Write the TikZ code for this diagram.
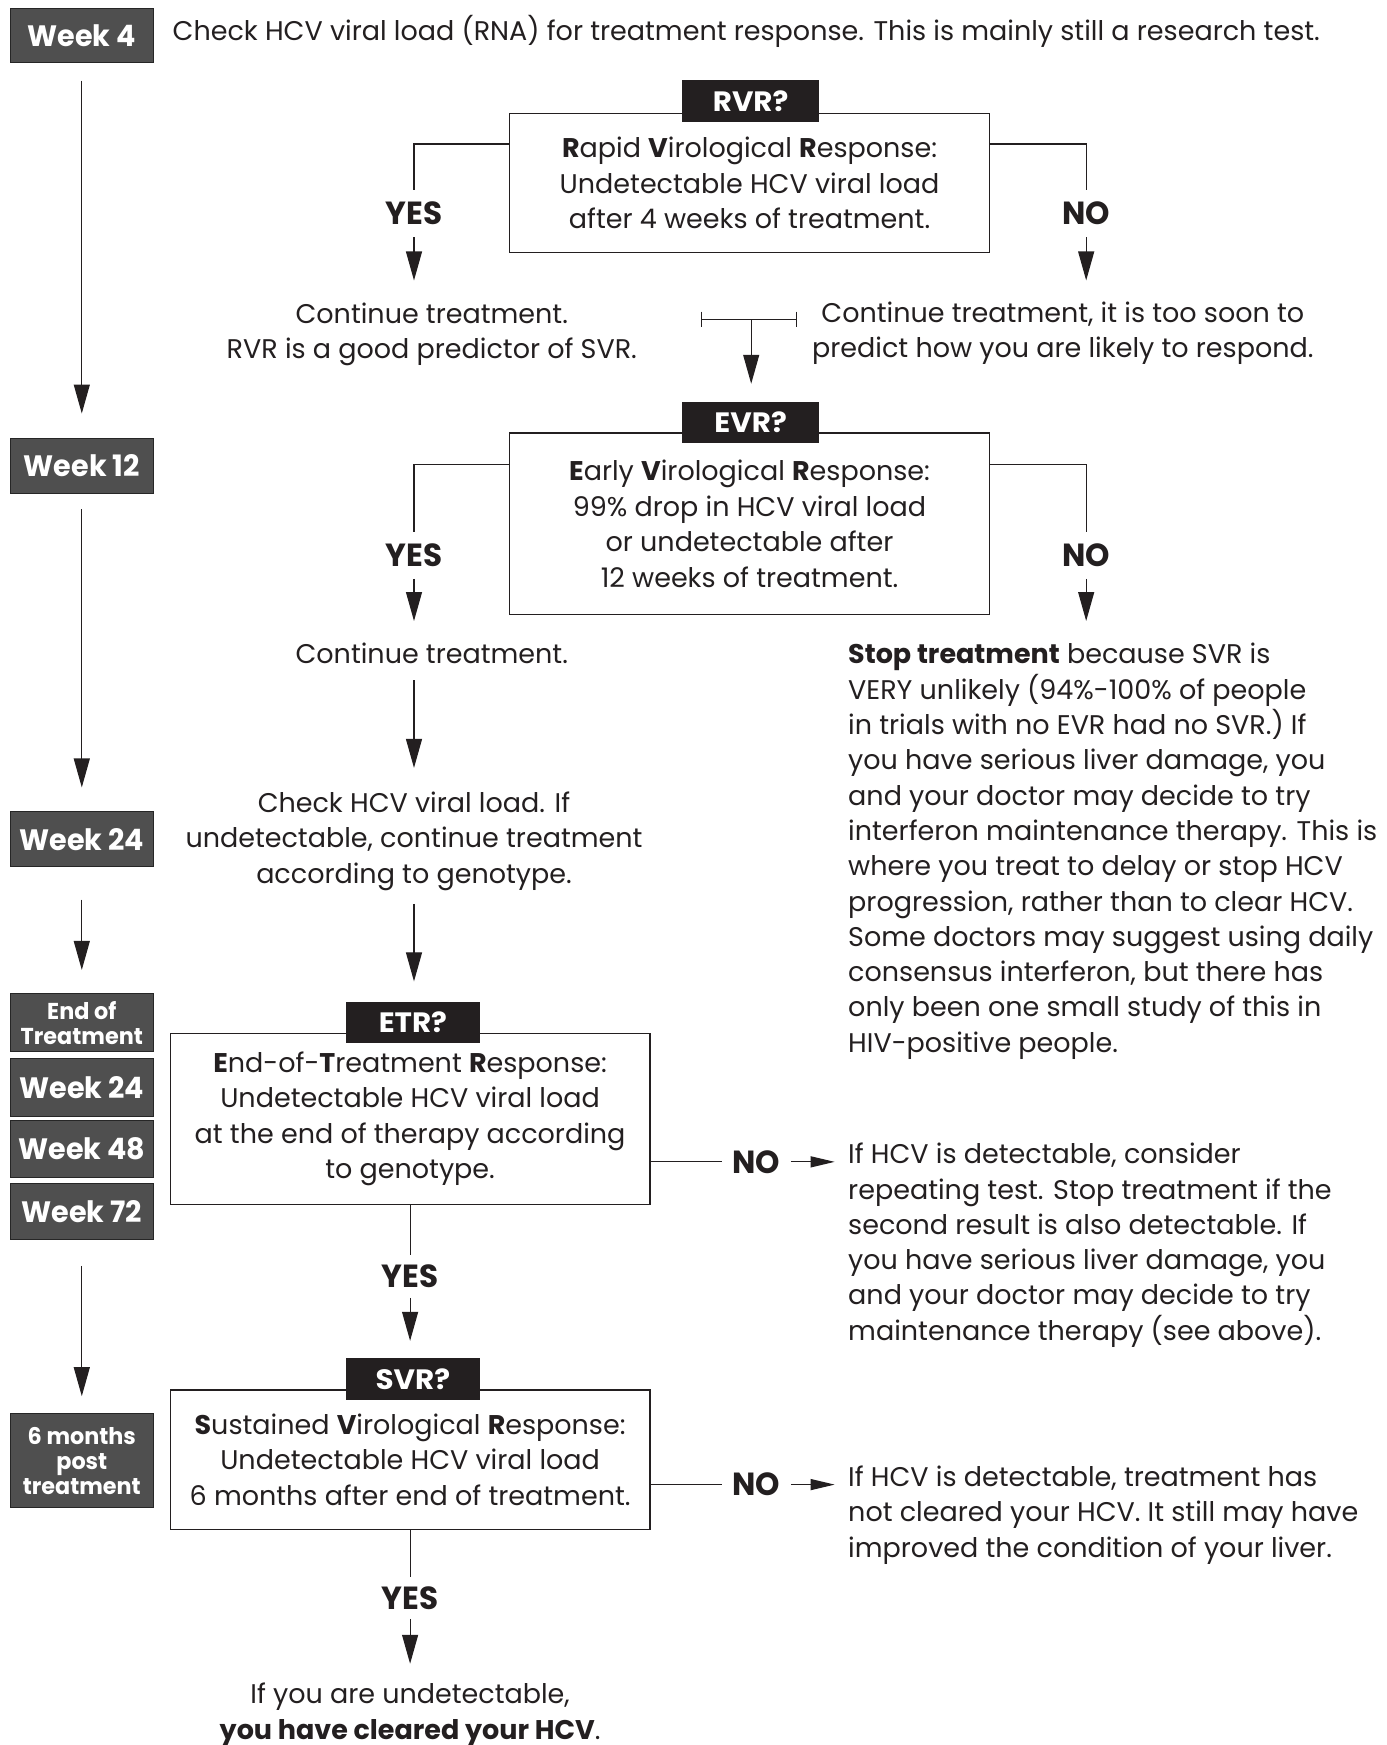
\documentclass[tikz,border=0pt]{standalone}
\usepackage{fontspec}
\setmainfont{Poppins}
\newfontfamily\cb{Poppins}[FakeStretch=0.97]
\newfontfamily\tb{Poppins}[FakeStretch=1.05]
\usetikzlibrary{arrows.meta,calc}
\definecolor{ink}{HTML}{231F20}
\definecolor{wk}{HTML}{4F4F4F}
\newdimen\uu \uu=1.1132pt
\begin{document}
\begin{tikzpicture}[x=1.1132pt,y=-1.1132pt,
  txt/.style={text=ink, font=\fontsize{27}{35.5}\selectfont, align=center, inner sep=0},
  ltxt/.style={text=ink, font=\fontsize{27}{35.3}\selectfont, align=left, inner sep=0, anchor=north west},
  week/.style={draw=black!85, line width=1pt, fill=wk, text=white, font=\cb\bfseries\fontsize{29.5}{31}\selectfont, minimum width=129\uu, inner sep=0, align=center},
  smallweek/.style={week, font=\cb\bfseries\fontsize{23}{25}\selectfont},
  qbox/.style={draw=ink, line width=1.2pt, fill=white, inner sep=0, minimum width=431\uu, text=ink, font=\fontsize{27}{35.5}\selectfont, align=center},
  tag/.style={fill=ink, text=white, font=\tb\bfseries\fontsize{28}{30}\selectfont, inner sep=0, minimum height=38\uu},
  yn/.style={text=ink, font=\cb\bfseries\fontsize{32}{34}\selectfont, inner sep=0},
  ln/.style={draw=ink, line width=1.2pt},
  arr/.style={ln, -{Triangle[length=29pt,width=16pt]}},
  harr/.style={ln, -{Triangle[length=24pt,width=11pt]}}
]
\useasboundingbox[fill=white] (0,0) rectangle (1246,1568);

% ---- timeline ----
\node[week, minimum height=48\uu] (w4) at (73.5,32) {Week 4};
\node[week, minimum height=49\uu] (w12) at (73.5,418.5) {Week 12};
\node[week, minimum height=50\uu] (w24a) at (73.5,754) {Week 24};
\node[smallweek, minimum height=52\uu] (eot) at (73.5,919) {End of\\Treatment};
\node[week, minimum height=52\uu] (w24b) at (73.5,977) {Week 24};
\node[week, minimum height=51\uu] (w48) at (73.5,1032.5) {Week 48};
\node[week, minimum height=51\uu] (w72) at (73.5,1088.5) {Week 72};
\node[smallweek, minimum height=85\uu] (m6) at (73.5,1312.5) {6 months\\post\\treatment};
\draw[arr, shorten <=16\uu, shorten >=22\uu] (w4) -- (w12);
\draw[arr, shorten <=14\uu, shorten >=21\uu] (w12) -- (w24a);
\draw[arr, shorten <=29\uu, shorten >=21\uu] (w24a) -- (eot);
\draw[arr, shorten <=23\uu, shorten >=15\uu] (w72) -- (m6);

\node[txt, anchor=west] (intro) at (155,28) {Check HCV viral load (RNA) for treatment response. This is mainly still a research test.};

% ---- RVR ----
\node[qbox, minimum height=125\uu] (rvr) at (673.5,164.5) {\textbf{R}apid \textbf{V}irological \textbf{R}esponse:\\Undetectable HCV viral load\\after 4 weeks of treatment.};
\node[tag, minimum width=123\uu] (rvrq) at (674.5,91) {RVR?};
\node[yn, minimum height=42\uu] (yes1) at (372,192) {YES};
\node[yn, minimum height=42\uu] (no1) at (976,192) {NO};
\node[txt, anchor=north] (cont1) at (388,272) {Continue treatment.\\RVR is a good predictor of SVR.};
\node[txt, anchor=north] (cont1r) at (955,271) {Continue treatment, it is too soon to\\predict how you are likely to respond.};
\draw[ln] ([yshift=-28\uu]rvr.north west) -| (yes1.north);
\draw[ln] ([yshift=-28\uu]rvr.north east) -| (no1.north);
\draw[arr, shorten >=20\uu] (yes1.south) -- (yes1.south |- cont1.north);
\draw[arr, shorten >=19\uu] (no1.south) -- (no1.south |- cont1r.north);

% T-bracket
\coordinate (tl) at (630,287);
\coordinate (tr) at (716,287);
\coordinate (tm) at (675,287);
\draw[ln] (tl) -- (tr);
\draw[ln] ([yshift=7\uu]tl) -- ([yshift=-7\uu]tl);
\draw[ln] ([yshift=7\uu]tr) -- ([yshift=-7\uu]tr);

% ---- EVR ----
\node[qbox, minimum height=163\uu] (evr) at (673.5,470.5) {\textbf{E}arly \textbf{V}irological \textbf{R}esponse:\\99\% drop in HCV viral load\\or undetectable after\\12 weeks of treatment.};
\node[tag, minimum width=123\uu, minimum height=37\uu] (evrq) at (674.5,379.5) {EVR?};
\draw[arr, shorten >=16\uu] (tm) -- (tm |- evrq.north);
\node[yn, minimum height=42\uu] (yes2) at (372,499) {YES};
\node[yn, minimum height=42\uu] (no2) at (976,499) {NO};
\draw[ln] ([yshift=-29\uu]evr.north west) -| (yes2.north);
\draw[ln] ([yshift=-29\uu]evr.north east) -| (no2.north);
\node[txt, anchor=north] (cont2) at (388,578) {Continue treatment.};
\node[ltxt] (stop) at (762,578) {\textbf{Stop treatment} because SVR is\\
VERY unlikely (94\%-100\% of people\\
in trials with no EVR had no SVR.) If\\
you have serious liver damage, you\\
and your doctor may decide to try\\
interferon maintenance therapy. This is\\
where you treat to delay or stop HCV\\
progression, rather than to clear HCV.\\
Some doctors may suggest using daily\\
consensus interferon, but there has\\
only been one small study of this in\\
HIV-positive people.};
\draw[arr, shorten >=20\uu] (yes2.south) -- (yes2.south |- cont2.north);
\draw[arr, shorten >=20\uu] (no2.south) -- (no2.south |- stop.north);
\node[txt, anchor=north] (check) at (372,711) {Check HCV viral load. If\\undetectable, continue treatment\\according to genotype.};
\draw[arr, shorten <=14\uu, shorten >=21\uu] (check.north |- cont2.south) -- (check.north);

% ---- ETR ----
\node[qbox, minimum height=153\uu] (etr) at (368.5,1005.5) {\textbf{E}nd-of-\textbf{T}reatment \textbf{R}esponse:\\Undetectable HCV viral load\\at the end of therapy according\\to genotype.};
\node[tag, minimum width=120\uu, minimum height=37\uu] (etrq) at (371,918.5) {ETR?};
\draw[arr, shorten <=12\uu, shorten >=18\uu] (check.south) -- (check.south |- etrq.north);
\node[yn, minimum width=62\uu] (no3) at (679.5,1044) {NO};
\node[ltxt] (etrno) at (762,1027) {If HCV is detectable, consider\\
repeating test. Stop treatment if the\\
second result is also detectable. If\\
you have serious liver damage, you\\
and your doctor may decide to try\\
maintenance therapy (see above).};
\draw[ln] (no3.west -| etr.east) -- (no3.west);
\draw[harr, shorten >=12\uu] (no3.east) -- (no3.east -| etrno.west);
\node[yn, minimum height=38\uu] (yes3) at (368.5,1147) {YES};
\draw[ln] (etr.south) -- (yes3.north);

% ---- SVR ----
\node[qbox, minimum height=125\uu] (svr) at (368.5,1311.5) {\textbf{S}ustained \textbf{V}irological \textbf{R}esponse:\\Undetectable HCV viral load\\6 months after end of treatment.};
\node[tag, minimum width=120\uu] (svrq) at (371,1239) {SVR?};
\draw[arr, shorten >=15\uu] (yes3.south) -- (yes3.south |- svrq.north);
\node[yn, minimum width=62\uu] (no4) at (679.5,1334) {NO};
\node[ltxt] (svrno) at (762,1317) {If HCV is detectable, treatment has\\
not cleared your HCV. It still may have\\
improved the condition of your liver.};
\draw[ln] (no4.west -| svr.east) -- (no4.west);
\draw[harr, shorten >=12\uu] (no4.east) -- (no4.east -| svrno.west);
\node[yn, minimum height=37\uu] (yes4) at (368.5,1436) {YES};
\draw[ln] (svr.south) -- (yes4.north);
\node[txt, anchor=north] (final) at (368.5,1512) {If you are undetectable,\\\textbf{you have cleared your HCV}.};
\draw[arr, shorten >=17\uu] (yes4.south) -- (final.north);
\end{tikzpicture}
\end{document}
